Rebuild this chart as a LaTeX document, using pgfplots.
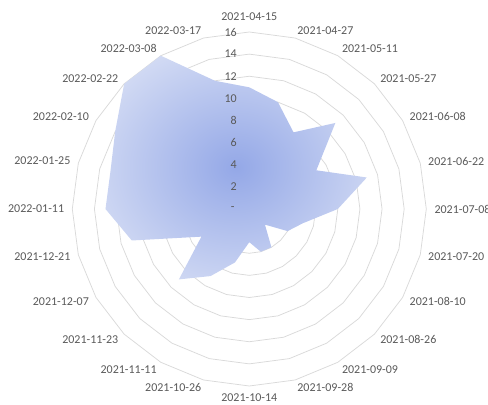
\documentclass[border=0pt]{standalone}
\usepackage{pgfplots}
\pgfplotsset{compat=1.18}
\usepackage{pgfplotstable}
\usepackage{fontspec}
\setmainfont{Carlito}
\definecolor{gridc}{RGB}{217,217,217}
\definecolor{txt}{RGB}{89,89,89}
\definecolor{innerc}{RGB}{148,168,231}
\definecolor{outerc}{RGB}{212,220,244}
\pgfdeclareradialshading{excelradial}{\pgfpoint{0bp}{0bp}}{color(0bp)=(innerc); color(30bp)=(outerc); color(100bp)=(outerc)}

\pgfplotstableread{
angle value
90 11
75 10
60 8
45 11
30 7
15 11
0 8
-15 5
-30 4
-45 2
-60 4
-75 4
-90 3
-105 5
-120 7
-135 9
-150 5
-165 11
-180 13
-195 13
-210 14
-225 16
-240 16
-255 12
}\datatable

\begin{document}
\begin{tikzpicture}[font=\fontsize{12bp}{14bp}\selectfont]
\begin{axis}[hide axis, x=11.0625bp, y=11.0625bp,
  xmin=-17, xmax=17, ymin=-17, ymax=17, clip=false]
\pgfplotsinvokeforeach{2,4,...,16}{
  \addplot[gridc, line width=0.75bp, mark=none, data cs=polar]
    table[x=angle, y expr=#1] {\datatable} -- cycle;
}
\addplot[draw=none, shading=excelradial, mark=none, data cs=polar]
  table[x=angle, y=value] {\datatable} -- cycle;
\coordinate (c) at (axis cs:0,0);
\end{axis}
\begin{scope}[shift={(c)}]
\foreach \r/\t in {2/2,4/4,6/6,8/8,10/10,12/12,14/14,16/16}{
  \node[anchor=east, inner sep=0, text=txt] at (-12.3bp,\r*11.0625bp) {\t};
}
\node[anchor=east, inner sep=0, text=txt] at (-14.5bp,0) {-};
\foreach \a/\t in {75/2021-04-27, 60/2021-05-11, 45/2021-05-27, 30/2021-06-08, 15/2021-06-22, 0/2021-07-08, -15/2021-07-20, -30/2021-08-10, -45/2021-08-26, -60/2021-09-09, -75/2021-09-28}{
  \node[anchor=west, inner sep=0, text=txt] at (\a:185bp) {\t};
}
\foreach \a/\t in {105/2022-03-17, 120/2022-03-08, 135/2022-02-22, 150/2022-02-10, 165/2022-01-25, 180/2022-01-11, 195/2021-12-21, 210/2021-12-07, 225/2021-11-23, 240/2021-11-11, 255/2021-10-26}{
  \node[anchor=east, inner sep=0, text=txt] at (\a:185bp) {\t};
}
\node[anchor=south, inner xsep=0, inner ysep=3bp, text=txt] at (90:185bp) {2021-04-15};
\node[anchor=north, inner xsep=0, inner ysep=0bp, text=txt] at (270:185bp) {2021-10-14};
\pgfresetboundingbox
\path (-249.3bp,-196bp) rectangle (238.7bp,209bp);
\end{scope}
\end{tikzpicture}
\end{document}
